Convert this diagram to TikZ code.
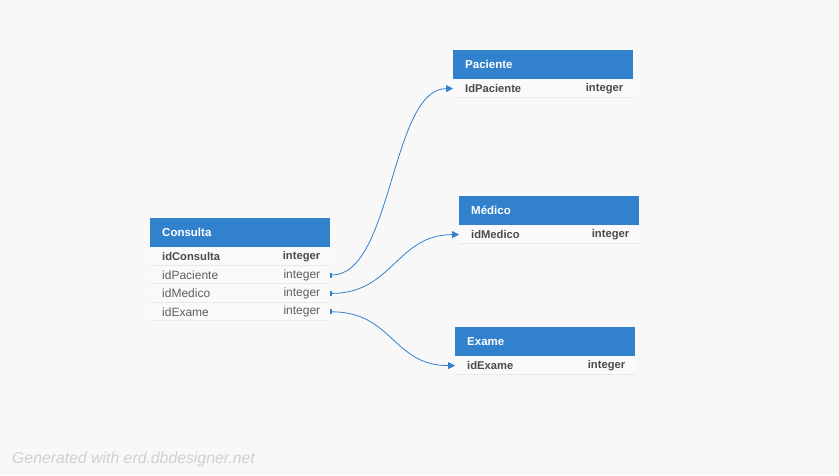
\documentclass[tikz,border=0pt]{standalone}
\usepackage{fontspec}
\setmainfont{Liberation Sans}
\usepackage{tikz}
\usetikzlibrary{positioning, arrows.meta}

\definecolor{headblue}{HTML}{3281CC}
\definecolor{pagebg}{HTML}{F8F8F8}
\definecolor{rowbg}{HTML}{FAFAFA}
\definecolor{sepgray}{HTML}{E9E9E9}
\definecolor{pkgray}{HTML}{4A4A4A}
\definecolor{fkgray}{HTML}{5E5E5E}
\definecolor{notegray}{HTML}{D0D0D0}

\tikzset{
  head/.style={fill=headblue, text=white, font=\fontsize{11.5}{13}\selectfont\bfseries,
    minimum width=180pt, minimum height=29pt, text width=156pt, inner xsep=12pt,
    inner ysep=0pt, align=left, anchor=north west},
  row/.style={fill=rowbg, minimum width=180pt, minimum height=18pt, inner sep=0pt,
    path picture={\draw[sepgray, line width=1.6pt] (path picture bounding box.south west)
      -- (path picture bounding box.south east);}},
  pk/.style={font=\fontsize{11.2}{14}\selectfont\bfseries, text=pkgray},
  fk/.style={font=\fontsize{12}{14}\selectfont, text=fkgray},
  fname/.style={anchor=west, inner sep=0pt},
  ftype/.style={anchor=east, inner sep=0pt},
  link/.style={headblue, line width=0.8pt, {Bar[width=5pt,line width=2pt]}-{Triangle[length=7pt,width=7pt]}}
}

\begin{document}
\begin{tikzpicture}[x=1pt, y=-1pt]
    % Background
    \fill[pagebg] (0,0) rectangle (839,475);
    \useasboundingbox (0,0) rectangle (839,475);

    % Tables
    \node[head] (cons-0) at (150,218) {Consulta};
    \node[head] (pac-0) at (453,50) {Paciente};
    \node[head] (med-0) at (459,196) {Médico};
    \node[head] (exa-0) at (455,327) {Exame};

    % Rows of Consulta
    \foreach \f/\s [count=\i, remember=\i as \j (initially 0)] in {idConsulta/pk, idPaciente/fk, idMedico/fk, idExame/fk} {
      \node[row, below=0pt of cons-\j] (cons-\i) {};
      \node[fname, \s] (cons-\i-n) at ([xshift=12pt]cons-\i.west) {\f};
      \node[ftype, \s] (cons-\i-t) at ([xshift=-10pt]cons-\i.east) {integer};
    }

    % One row in each of the others
    \foreach \t/\f in {pac/IdPaciente, med/idMedico, exa/idExame} {
      \node[row, below=0pt of \t-0] (\t-1) {};
      \node[fname, pk] (\t-1-n) at ([xshift=12pt]\t-1.west) {\f};
      \node[ftype, pk] (\t-1-t) at ([xshift=-10pt]\t-1.east) {integer};
    }

    % Links
    \draw[link] (cons-2.east) .. controls +(62,0) and +(-62,0) .. (pac-1.west);
    \draw[link] (cons-3.east) .. controls +(62,0) and +(-62,0) .. (med-1.west);
    \draw[link] (cons-4.east) .. controls +(62,0) and +(-62,0) .. (exa-1.west);

    % Footer
    \node[anchor=west, inner sep=0pt, text=notegray, font=\fontsize{15.8}{18}\selectfont\itshape] (note) at (12,459) {Generated with erd.dbdesigner.net};
\end{tikzpicture}
\end{document}
